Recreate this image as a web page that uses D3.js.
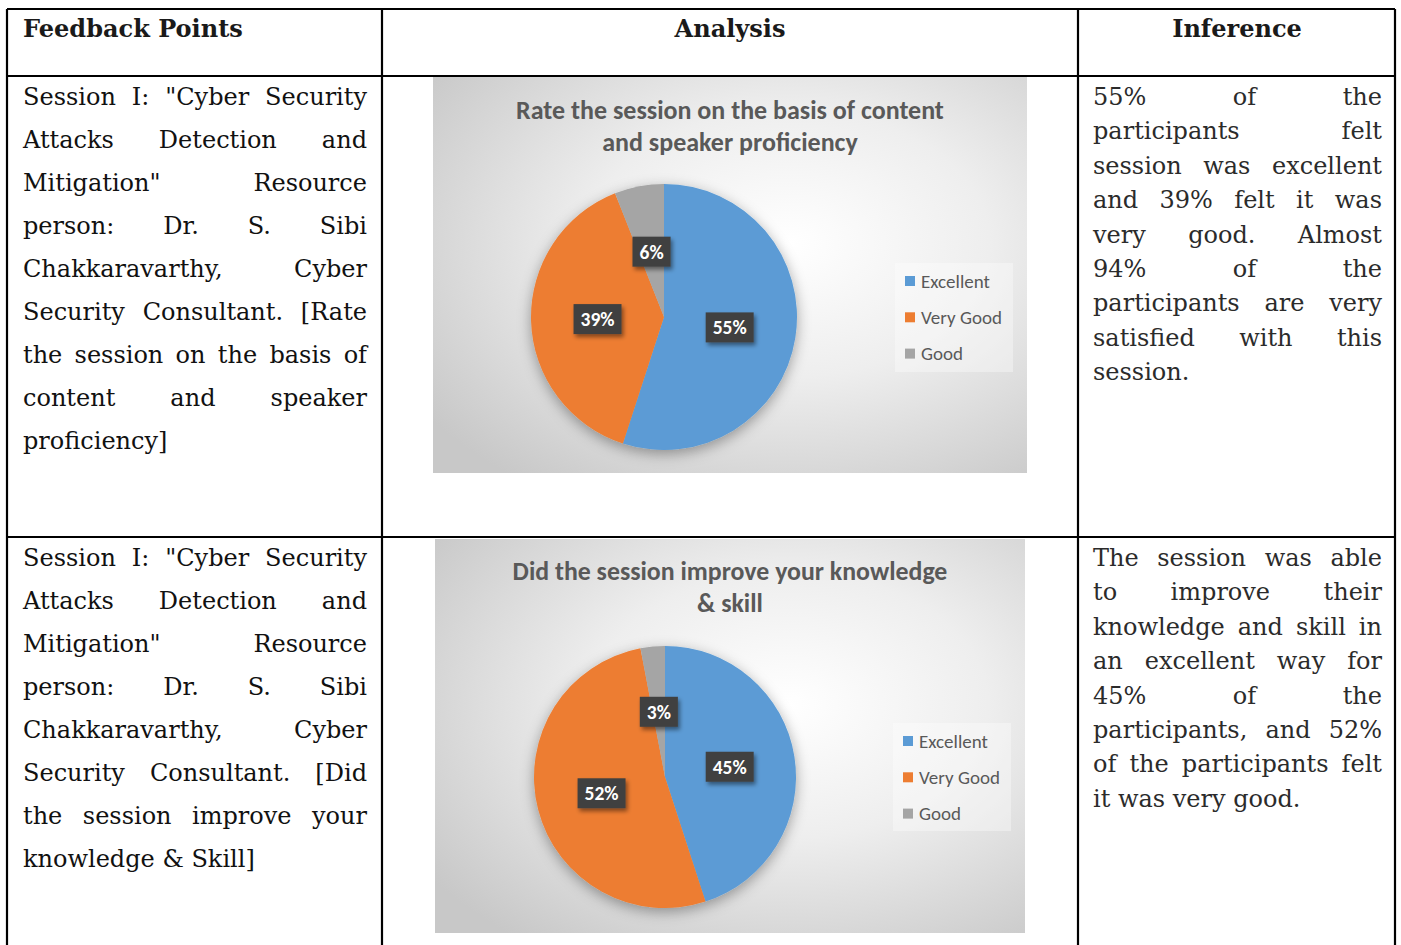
<!DOCTYPE html>
<html>
<head>
<meta charset="utf-8">
<script src="https://cdn.jsdelivr.net/npm/d3@7"></script>
<style>
  html, body { margin: 0; padding: 0; background: #ffffff; }
  svg { display: block; }
</style>
</head>
<body>
<script>
// ---------------- DATA ----------------
const headers = ["Feedback Points", "Analysis", "Inference"];
const categories = ["Excellent", "Very Good", "Good"];
const chart1Values = [55, 39, 6];
const chart2Values = [45, 52, 3];
const chart1Title = ["Rate the session on the basis of content", "and speaker proficiency"];
const chart2Title = ["Did the session improve your knowledge", "& skill"];
const feedback1Lines = [
  "Session I: \"Cyber Security",
  "Attacks Detection and",
  "Mitigation\" Resource",
  "person: Dr. S. Sibi",
  "Chakkaravarthy, Cyber",
  "Security Consultant. [Rate",
  "the session on the basis of",
  "content and speaker",
  "proficiency]"
];
const feedback2Lines = [
  "Session I: \"Cyber Security",
  "Attacks Detection and",
  "Mitigation\" Resource",
  "person: Dr. S. Sibi",
  "Chakkaravarthy, Cyber",
  "Security Consultant. [Did",
  "the session improve your",
  "knowledge & Skill]"
];
const inference1Lines = [
  "55% of the",
  "participants felt",
  "session was excellent",
  "and 39% felt it was",
  "very good. Almost",
  "94% of the",
  "participants are very",
  "satisfied with this",
  "session."
];
const inference2Lines = [
  "The session was able",
  "to improve their",
  "knowledge and skill in",
  "an excellent way for",
  "45% of the",
  "participants, and 52%",
  "of the participants felt",
  "it was very good."
];
const sliceColors = ["#5B9BD5", "#ED7D31", "#A5A5A5"];

// ---------------- LAYOUT ----------------
const W = 1401, H = 945;
const svg = d3.select("body").append("svg").attr("width", W).attr("height", H);
svg.append("rect").attr("width", W).attr("height", H).attr("fill", "#ffffff");

const defs = svg.append("defs");
const bgGrad = defs.append("radialGradient").attr("id", "bgGrad")
  .attr("cx", "60%").attr("cy", "42%").attr("r", "75%");
bgGrad.append("stop").attr("offset", "0%").attr("stop-color", "#ffffff");
bgGrad.append("stop").attr("offset", "45%").attr("stop-color", "#eeeeee");
bgGrad.append("stop").attr("offset", "100%").attr("stop-color", "#c8c8c8");

const pieShadow = defs.append("filter").attr("id", "pieShadow")
  .attr("x", "-30%").attr("y", "-30%").attr("width", "160%").attr("height", "160%");
pieShadow.append("feDropShadow").attr("dx", 0).attr("dy", 4).attr("stdDeviation", 7)
  .attr("flood-color", "#000").attr("flood-opacity", 0.35);

const boxShadow = defs.append("filter").attr("id", "boxShadow")
  .attr("x", "-30%").attr("y", "-30%").attr("width", "160%").attr("height", "160%");
boxShadow.append("feDropShadow").attr("dx", 2).attr("dy", 3).attr("stdDeviation", 2)
  .attr("flood-color", "#000").attr("flood-opacity", 0.45);

const serif = "'DejaVu Serif', 'Liberation Serif', serif";
const sans = "Carlito, Lato, 'Open Sans', sans-serif";

// -------- Table grid --------
const grid = svg.append("g").attr("stroke", "#000").attr("stroke-width", 2.2).attr("fill", "none");
const xs = { left: 7, c1: 382, c2: 1078, right: 1395 };
const ys = { top: 9, h1: 76, h2: 537, bottom: 960 };
[[xs.left, ys.top, xs.right, ys.top], [xs.left, ys.h1, xs.right, ys.h1], [xs.left, ys.h2, xs.right, ys.h2],
 [xs.left, ys.top, xs.left, ys.bottom], [xs.c1, ys.top, xs.c1, ys.bottom],
 [xs.c2, ys.top, xs.c2, ys.bottom], [xs.right, ys.top, xs.right, ys.bottom]]
  .forEach(l => grid.append("line").attr("x1", l[0]).attr("y1", l[1]).attr("x2", l[2]).attr("y2", l[3]));

// -------- Header --------
function fitText(sel, target) {
  const w = sel.node().getComputedTextLength();
  const fs = parseFloat(sel.attr("font-size"));
  sel.attr("font-size", fs * target / w);
}
const hdr = svg.append("g").attr("font-family", serif).attr("font-weight", "bold").attr("fill", "#1a1a1a");
const h0 = hdr.append("text").attr("x", 23).attr("y", 37).attr("font-size", 24).text(headers[0]);
fitText(h0, 220);
const hfs = parseFloat(h0.attr("font-size"));
hdr.append("text").attr("x", 730).attr("y", 37).attr("font-size", hfs).attr("text-anchor", "middle").text(headers[1]);
hdr.append("text").attr("x", 1237).attr("y", 37).attr("font-size", hfs).attr("text-anchor", "middle").text(headers[2]);

// -------- Justified paragraphs --------
function paragraph(lines, x0, x1, y0, lh, color) {
  const g = svg.append("g").attr("font-family", serif).attr("font-size", 24).attr("fill", color);
  lines.forEach((line, i) => {
    const y = y0 + i * lh;
    const words = line.split(" ");
    const last = i === lines.length - 1;
    if (last || words.length === 1) {
      g.append("text").attr("x", x0).attr("y", y).attr("xml:space", "preserve").text(line);
      return;
    }
    const nodes = words.map(w => g.append("text").attr("y", y).text(w));
    const widths = nodes.map(n => n.node().getComputedTextLength());
    const total = d3.sum(widths);
    const gap = (x1 - x0 - total) / (words.length - 1);
    let x = x0;
    nodes.forEach((n, k) => { n.attr("x", x); x += widths[k] + gap; });
  });
}
paragraph(feedback1Lines, 23, 367, 105, 43, "#111111");
paragraph(feedback2Lines, 23, 367, 566, 43, "#111111");
paragraph(inference1Lines, 1093, 1382, 105, 34.4, "#2b2b2b");
paragraph(inference2Lines, 1093, 1382, 566, 34.4, "#2b2b2b");

// -------- Pie charts --------
const charts = [
  { values: chart1Values, title: chart1Title, frame: { x: 433, y: 77, w: 594, h: 396 },
    cx: 231, cy: 240, r: 133, titleY: 42, titleW: 428,
    legend: { x: 462, y: 186, w: 118, h: 109, y0: 204, step: 36.3, mx: 472, tx: 488 } },
  { values: chart2Values, title: chart2Title, frame: { x: 435, y: 539, w: 590, h: 394 },
    cx: 230, cy: 238, r: 131, titleY: 41, titleW: 435,
    legend: { x: 458, y: 184, w: 118, h: 108, y0: 202, step: 36.3, mx: 468, tx: 484 } }
];

charts.forEach(c => {
  const g = svg.append("g").attr("transform", `translate(${c.frame.x},${c.frame.y})`);
  g.append("rect").attr("width", c.frame.w).attr("height", c.frame.h).attr("fill", "url(#bgGrad)");

  // title
  const tg = g.append("g").attr("font-family", sans).attr("font-weight", "bold").attr("fill", "#595959")
    .attr("text-anchor", "middle");
  const t1 = tg.append("text").attr("x", c.frame.w / 2).attr("y", c.titleY).attr("font-size", 21).text(c.title[0]);
  fitText(t1, c.titleW);
  const tfs = t1.attr("font-size");
  tg.append("text").attr("x", c.frame.w / 2).attr("y", c.titleY + 31.5).attr("font-size", tfs).text(c.title[1]);

  // pie
  const pie = d3.pie().sort(null).value(d => d)(c.values);
  const arc = d3.arc().innerRadius(0).outerRadius(c.r);
  const pg = g.append("g").attr("transform", `translate(${c.cx},${c.cy})`);
  const slices = pg.append("g").attr("filter", "url(#pieShadow)");
  slices.selectAll("path").data(pie).join("path")
    .attr("d", arc).attr("fill", (d, i) => sliceColors[i]);

  // labels
  const lab = pg.selectAll("g.lab").data(pie).join("g").attr("class", "lab")
    .attr("transform", d => `translate(${arc.centroid(d)})`);
  lab.each(function (d) {
    const s = d3.select(this);
    const txt = d.data + "%";
    const t = s.append("text").attr("font-family", sans).attr("font-weight", "bold")
      .attr("font-size", 19.5).attr("fill", "#ffffff").attr("text-anchor", "middle")
      .attr("y", 7).text(txt);
    const w = t.node().getComputedTextLength() + 14;
    s.insert("rect", "text").attr("x", -w / 2).attr("y", -15).attr("width", w).attr("height", 30)
      .attr("fill", "#404040").attr("filter", "url(#boxShadow)");
  });

  // legend
  const L = c.legend;
  const lg = g.append("g");
  lg.append("rect").attr("x", L.x).attr("y", L.y).attr("width", L.w).attr("height", L.h)
    .attr("fill", "#ffffff").attr("fill-opacity", 0.35);
  categories.forEach((cat, i) => {
    const y = L.y0 + i * L.step;
    lg.append("rect").attr("x", L.mx).attr("y", y - 5).attr("width", 10).attr("height", 10)
      .attr("fill", sliceColors[i]);
    lg.append("text").attr("x", L.tx).attr("y", y + 6.5).attr("font-family", sans)
      .attr("font-size", 19).attr("fill", "#595959").text(cat);
  });
});
</script>
</body>
</html>
